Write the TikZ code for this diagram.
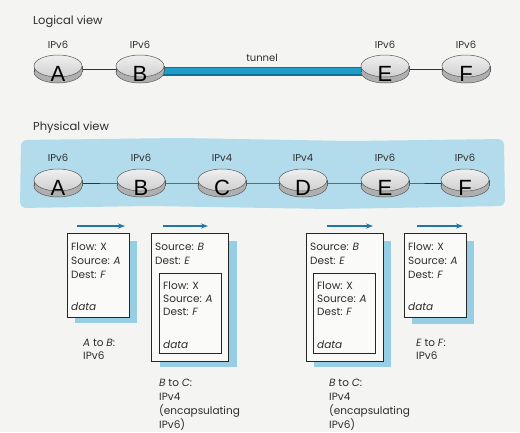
\documentclass[tikz,border=0pt]{standalone}
\usepackage{fontspec}
\setmainfont{Poppins}
\newfontfamily\letterfont{Liberation Sans}
\usetikzlibrary{arrows.meta,shapes.geometric}
\definecolor{paper}{RGB}{244,244,242}
\definecolor{bgblue}{RGB}{178,219,235}
\definecolor{shadowblue}{RGB}{152,206,228}
\definecolor{tunneldark}{RGB}{18,112,150}
\definecolor{tunnellight}{RGB}{28,158,198}
\definecolor{arrowblue}{RGB}{32,118,168}
\definecolor{rimgray}{RGB}{175,175,175}
\definecolor{routeredge}{RGB}{90,90,90}
\definecolor{txtgray}{RGB}{45,45,45}
\definecolor{boxfill}{RGB}{250,250,248}
\tikzset{
  router/.style={ellipse, minimum width=48pt, minimum height=22pt, inner sep=0pt,
    draw=routeredge, line width=0.5pt, top color=gray!12, bottom color=gray!38},
  letter/.style={font=\letterfont\fontsize{22}{22}\selectfont, inner sep=0pt, text=black},
  lbl/.style={font=\fontsize{10}{11}\selectfont, text=txtgray, inner sep=0pt},
  txt/.style={font=\fontsize{10.5}{12}\selectfont, text=txtgray, inner sep=0pt, anchor=west},
  title/.style={font=\fontsize{11.5}{13}\selectfont, text=txtgray, inner sep=0pt, anchor=west},
  pkt/.style={draw=black!85, line width=0.6pt, fill=boxfill, inner sep=0pt, anchor=north west},
  link/.style={draw=black!80, line width=0.9pt},
  flow/.style={draw=arrowblue, line width=1.2pt, -{Stealth[length=7pt,width=5pt]}},
}
\newcommand\mkrouter[4]{%
  \fill[rimgray,draw=routeredge,line width=0.5pt] (#2,#3+6) ellipse[x radius=24,y radius=11];
  \fill[rimgray] (#2-24,#3) rectangle (#2+24,#3+6);
  \draw[routeredge,line width=0.5pt] (#2-24,#3) -- (#2-24,#3+6) (#2+24,#3) -- (#2+24,#3+6);
  \node[router] (#1) at (#2,#3) {};
  \node[letter] (#1l) at (#2,#3+8) {#4};
}
\begin{document}
\begin{tikzpicture}[x=1pt,y=-1pt]
\fill[paper] (0,0) rectangle (520,432);
\useasboundingbox (0,0) rectangle (520,432);

% ---------- Logical view ----------
\node[title] (ltitle) at (33,22) {Logical view};
\coordinate (cA) at (58,69);
\coordinate (cB) at (140,69);
\coordinate (cE) at (385,69);
\coordinate (cF) at (466,69);
\coordinate (tB) at (140,71);
\coordinate (tE) at (385,71);
\draw[link] (cA) -- (cB);
\draw[link] (cE) -- (cF);
\draw[tunneldark, line width=9pt] (tB) -- (tE);
\draw[tunnellight, line width=5.5pt] (tB) -- (tE);
\node[lbl] (tun) at (262,58) {tunnel};
\mkrouter{lA}{58}{66}{A}
\mkrouter{lB}{140}{66}{B}
\mkrouter{lE}{385}{66}{E}
\mkrouter{lF}{466}{66}{F}
\node[lbl] (lvA) at (58,45) {IPv6};
\node[lbl] (lvB) at (140,45) {IPv6};
\node[lbl] (lvE) at (385,45) {IPv6};
\node[lbl] (lvF) at (466,45) {IPv6};

% ---------- Physical view ----------
\node[title] (ptitle) at (33,128) {Physical view};
\fill[bgblue, rounded corners=6pt] (21,140) -- (180,138) -- (350,141) -- (504,139) -- (505,206) -- (330,209) -- (150,206) -- (20,208) -- cycle;
\coordinate (pA) at (58,183);
\coordinate (pB) at (141,183);
\coordinate (pC) at (222,183);
\coordinate (pD) at (303,183);
\coordinate (pE) at (385,183);
\coordinate (pF) at (465,183);
\draw[link] (pA) -- (pB) -- (pC) -- (pD) -- (pE) -- (pF);
\mkrouter{rA}{58}{180}{A}
\mkrouter{rB}{141}{180}{B}
\mkrouter{rC}{222}{180}{C}
\mkrouter{rD}{303}{180}{D}
\mkrouter{rE}{385}{180}{E}
\mkrouter{rF}{465}{180}{F}
\node[lbl] (vA) at (58,158) {IPv6};
\node[lbl] (vB) at (141,158) {IPv6};
\node[lbl] (vC) at (222,158) {IPv4};
\node[lbl] (vD) at (303,158) {IPv4};
\node[lbl] (vE) at (385,158) {IPv6};
\node[lbl] (vF) at (465,158) {IPv6};

% ---------- flow arrows ----------
\coordinate (a1s) at (77,226);  \coordinate (a1e) at (125,226);
\coordinate (a2s) at (163,226); \coordinate (a2e) at (208,226);
\coordinate (a3s) at (327,226); \coordinate (a3e) at (373,226);
\coordinate (a4s) at (417,226); \coordinate (a4e) at (463,226);
\draw[flow] (a1s) -- (a1e);
\draw[flow] (a2s) -- (a2e);
\draw[flow] (a3s) -- (a3e);
\draw[flow] (a4s) -- (a4e);

% ---------- packet 1 (A to B) ----------
\fill[shadowblue] (75,241) rectangle (137,323);
\node[pkt, minimum width=62pt, minimum height=84pt] (p1) at (67,233) {};
\node[txt] (p1a) at (71,247) {Flow: X};
\node[txt] (p1b) at (71,261) {Source: \textit{A}};
\node[txt] (p1c) at (71,275) {Dest: \textit{F}};
\node[txt] (p1d) at (71,307) {\textit{data}};
\node[txt] (p1l1) at (83,343) {\textit{A} to \textit{B}:};
\node[txt] (p1l2) at (83,356) {IPv6};

% ---------- packet 2 (B to C) ----------
\fill[shadowblue] (160,241) rectangle (237,367);
\node[pkt, minimum width=77pt, minimum height=128pt] (p2) at (151,233) {};
\node[txt] (p2a) at (155,247) {Source: \textit{B}};
\node[txt] (p2b) at (155,261) {Dest: \textit{E}};
\node[pkt, minimum width=62pt, minimum height=80pt] (p2i) at (159,273) {};
\node[txt] (p2c) at (163,286) {Flow: X};
\node[txt] (p2d) at (163,299) {Source: \textit{A}};
\node[txt] (p2e) at (163,312) {Dest: \textit{F}};
\node[txt] (p2f) at (163,345) {\textit{data}};
\node[txt] (p2l1) at (159,383) {\textit{B} to \textit{C}:};
\node[txt] (p2l2) at (159,397) {IPv4};
\node[txt] (p2l3) at (159,411) {(encapsulating};
\node[txt] (p2l4) at (159,425) {IPv6)};

% ---------- packet 3 (B to C) ----------
\fill[shadowblue] (314,241) rectangle (391,367);
\node[pkt, minimum width=77pt, minimum height=128pt] (p3) at (306,233) {};
\node[txt] (p3a) at (310,247) {Source: \textit{B}};
\node[txt] (p3b) at (310,261) {Dest: \textit{E}};
\node[pkt, minimum width=62pt, minimum height=80pt] (p3i) at (313,273) {};
\node[txt] (p3c) at (317,286) {Flow: X};
\node[txt] (p3d) at (317,299) {Source: \textit{A}};
\node[txt] (p3e) at (317,312) {Dest: \textit{F}};
\node[txt] (p3f) at (317,345) {\textit{data}};
\node[txt] (p3l1) at (329,383) {\textit{B} to \textit{C}:};
\node[txt] (p3l2) at (329,397) {IPv4};
\node[txt] (p3l3) at (329,411) {(encapsulating};
\node[txt] (p3l4) at (329,425) {IPv6)};

% ---------- packet 4 (E to F) ----------
\fill[shadowblue] (412,241) rectangle (474,324);
\node[pkt, minimum width=62pt, minimum height=84pt] (p4) at (404,233) {};
\node[txt] (p4a) at (408,247) {Flow: X};
\node[txt] (p4b) at (408,261) {Source: \textit{A}};
\node[txt] (p4c) at (408,275) {Dest: \textit{F}};
\node[txt] (p4d) at (408,307) {\textit{data}};
\node[txt] (p4l1) at (416,343) {\textit{E} to \textit{F}:};
\node[txt] (p4l2) at (416,356) {IPv6};
\end{tikzpicture}
\end{document}
